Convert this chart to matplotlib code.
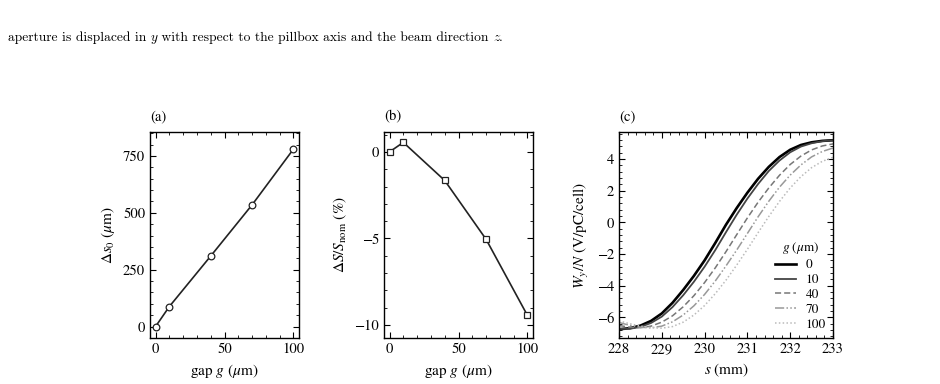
import numpy as np
import matplotlib
matplotlib.use("Agg")
import matplotlib.pyplot as plt
from matplotlib.ticker import MultipleLocator

plt.rcParams['font.family'] = 'STIXGeneral'
plt.rcParams['mathtext.fontset'] = 'stix'
plt.rcParams['font.size'] = 10.5

# (a) / (b): gap scan
gap = [0, 10, 40, 70, 100]
ds0 = [0, 88, 310, 535, 780]            # um
dS = [0.0, 0.55, -1.65, -5.05, -9.45]   # %

# (c): wakes vs s for each gap
s_mm = [228.0, 228.25, 228.5, 228.75, 229.0, 229.25, 229.5, 229.75, 230.0,
        230.25, 230.5, 230.75, 231.0, 231.25, 231.5, 231.75, 232.0, 232.25,
        232.5, 232.75, 233.0]
w_g0 = [-6.75, -6.68, -6.52, -6.22, -5.75, -5.08, -4.27, -3.38, -2.40, -1.30,
        -0.15, 0.90, 1.87, 2.75, 3.50, 4.12, 4.58, 4.88, 5.05, 5.14, 5.18]
w_g10 = [-6.72, -6.72, -6.60, -6.35, -5.95, -5.35, -4.60, -3.75, -2.80, -1.75,
         -0.62, 0.48, 1.50, 2.42, 3.24, 3.90, 4.42, 4.78, 4.99, 5.12, 5.18]
w_g40 = [-6.51, -6.62, -6.65, -6.55, -6.30, -5.90, -5.33, -4.63, -3.80, -2.87,
         -1.85, -0.78, 0.28, 1.27, 2.17, 2.97, 3.65, 4.18, 4.57, 4.82, 4.95]
w_g70 = [-6.32, -6.50, -6.62, -6.66, -6.55, -6.28, -5.85, -5.27, -4.55, -3.70,
         -2.75, -1.75, -0.70, 0.35, 1.33, 2.22, 2.98, 3.62, 4.13, 4.47, 4.69]
w_g100 = [-6.22, -6.40, -6.55, -6.65, -6.68, -6.58, -6.30, -5.85, -5.25, -4.50,
          -3.65, -2.70, -1.70, -0.65, 0.37, 1.32, 2.17, 2.88, 3.45, 3.85, 4.10]
wake_labels = ['0', '10', '40', '70', '100']

fig = plt.figure(figsize=(9.4, 3.84), dpi=100)

axa = fig.add_axes([150 / 940, 46 / 384, 149 / 940, 206 / 384])
axb = fig.add_axes([384 / 940, 46 / 384, 149 / 940, 206 / 384])
axc = fig.add_axes([619 / 940, 46 / 384, 214 / 940, 206 / 384])


def style(ax):
    ax.tick_params(which='both', direction='in', top=True, right=True, labelsize=10.5)
    ax.tick_params(which='major', length=4, width=0.8)
    ax.tick_params(which='minor', length=2, width=0.6)
    for sp in ax.spines.values():
        sp.set_linewidth(1.0)


axa.plot(gap, ds0, '-', color='#222222', lw=1.2, marker='o', ms=4.8,
         mfc='white', mec='#222222', mew=0.9)
axa.set_xlim(-4, 104)
axa.set_ylim(-50, 855)
axa.xaxis.set_major_locator(MultipleLocator(50))
axa.xaxis.set_minor_locator(MultipleLocator(10))
axa.yaxis.set_major_locator(MultipleLocator(250))
axa.yaxis.set_minor_locator(MultipleLocator(50))
axa.set_xlabel(r'gap $g$ ($\mu$m)', fontsize=11)
axa.set_ylabel(r'$\Delta s_0$ ($\mu$m)', fontsize=11)
style(axa)

axb.plot(gap, dS, '-', color='#222222', lw=1.2, marker='s', ms=4.8,
         mfc='white', mec='#222222', mew=0.9)
axb.set_xlim(-4, 104)
axb.set_ylim(-10.75, 1.15)
axb.xaxis.set_major_locator(MultipleLocator(50))
axb.xaxis.set_minor_locator(MultipleLocator(10))
axb.yaxis.set_major_locator(MultipleLocator(5))
axb.yaxis.set_minor_locator(MultipleLocator(1))
axb.set_xlabel(r'gap $g$ ($\mu$m)', fontsize=11)
axb.set_ylabel(r'$\Delta S/S_\mathrm{nom}$ (%)', fontsize=11)
style(axb)

wakes = [w_g0, w_g10, w_g40, w_g70, w_g100]
colors = ['#000000', '#444444', '#777777', '#999999', '#bbbbbb']
widths = [1.9, 1.3, 1.1, 1.1, 1.1]
dashes = [None, None, (4, 2), (6, 1.5, 1, 1.5, 1, 1.5), (1, 1.5)]
for w, c, lw, d, lab in zip(wakes, colors, widths, dashes, wake_labels):
    line, = axc.plot(s_mm, w, color=c, lw=lw, label=lab)
    if d is not None:
        line.set_dashes(d)
axc.set_xlim(228, 233)
axc.set_ylim(-7.3, 5.7)
axc.xaxis.set_major_locator(MultipleLocator(1))
axc.xaxis.set_minor_locator(MultipleLocator(0.2))
axc.yaxis.set_major_locator(MultipleLocator(2))
axc.yaxis.set_minor_locator(MultipleLocator(0.4))
axc.set_xlabel(r'$s$ (mm)', fontsize=11)
axc.set_ylabel(r'$W_y/N$ (V/pC/cell)', fontsize=11)
axc.legend(title=r'$g$ ($\mu$m)', loc='lower right', frameon=False,
           fontsize=9.5, title_fontsize=9.5, handlelength=1.6,
           labelspacing=0.2, borderaxespad=0.15, handletextpad=0.7)
style(axc)

for ax, lab in [(axa, '(a)'), (axb, '(b)'), (axc, '(c)')]:
    ax.text(0, 1.04, lab, transform=ax.transAxes, va='bottom', ha='left', fontsize=10.5)

# caption fragment above the figure, pieces chained one after another
prev = fig.text(8 / 940, 1 - 44 / 384, 'aperture is displaced in\u00a0',
                family='cmr10', fontsize=9.7, va='bottom')
pieces = [('y', 'cmmi10'),
          ('\u00a0with respect to the pillbox axis and the beam direction\u00a0', 'cmr10'),
          ('z', 'cmmi10'), ('.', 'cmr10')]
for piece, fam in pieces:
    prev = axa.annotate(piece, xy=(1, 0), xycoords=prev, va='bottom', ha='left',
                        family=fam, fontsize=9.7, annotation_clip=False)

fig.savefig('out.png', dpi=100)
